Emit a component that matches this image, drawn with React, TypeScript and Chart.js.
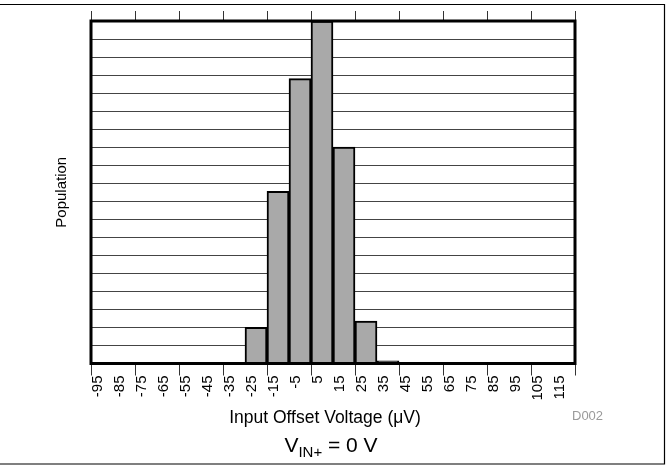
import { useEffect, useRef } from 'react';
import { Chart, registerables } from 'chart.js';

Chart.register(...registerables);

const binLabels = ['-95', '-85', '-75', '-65', '-55', '-45', '-35', '-25', '-15', '-5', '5', '15', '25', '35', '45', '55', '65', '75', '85', '95', '105', '115'];
const population = [0, 0, 0, 0, 0, 0, 0, 2, 9.55, 15.8, 19, 12, 2.35, 0.15, 0, 0, 0, 0, 0, 0, 0, 0];
const yMax = 19;
const xTitle = 'Input Offset Voltage (\u03bcV)';
const yTitle = 'Population';
const figureId = 'D002';
const condMain = 'V';
const condSub = 'IN+';
const condRest = ' = 0 V';

const FONT = "'Liberation Sans', Arial, Helvetica, sans-serif";

const W = 669;
const H = 466;
const AREA = { left: 91, right: 575, top: 21, bottom: 363.5 };

const everyOtherEdge = (c: any) =>
  c.type !== 'tick' || c.index % 2 === 0 ? '#333333' : 'rgba(0,0,0,0)';

const decorPlugin = {
  id: 'decor',
  afterDraw(chart: any) {
    const { ctx, chartArea } = chart;
    ctx.save();
    // plot frame
    ctx.strokeStyle = '#000';
    ctx.lineWidth = 3;
    ctx.strokeRect(chartArea.left, chartArea.top, chartArea.right - chartArea.left, chartArea.bottom - chartArea.top);
    // outer figure border
    ctx.lineWidth = 1.2;
    ctx.beginPath();
    ctx.moveTo(0, 4.5);
    ctx.lineTo(664.5, 4.5);
    ctx.lineTo(664.5, 464);
    ctx.lineTo(0, 464);
    ctx.stroke();
    // x axis title
    ctx.fillStyle = '#000';
    ctx.font = `17.5px ${FONT}`;
    ctx.textAlign = 'center';
    ctx.textBaseline = 'middle';
    ctx.fillText(xTitle, 325, 418);
    // figure id
    ctx.fillStyle = '#9a9a9a';
    ctx.font = `13px ${FONT}`;
    ctx.textAlign = 'left';
    ctx.textBaseline = 'alphabetic';
    ctx.fillText(figureId, 572, 420);
    // condition line
    ctx.fillStyle = '#000';
    const big = `21px ${FONT}`;
    const small = `15px ${FONT}`;
    ctx.font = big;
    const w1 = ctx.measureText(condMain).width;
    const w3 = ctx.measureText(condRest).width;
    ctx.font = small;
    const w2 = ctx.measureText(condSub).width;
    const total = w1 + w2 + w3;
    let x = 331 - total / 2;
    const base = 452;
    ctx.font = big;
    ctx.fillText(condMain, x, base);
    x += w1;
    ctx.font = small;
    ctx.fillText(condSub, x, base + 5);
    x += w2;
    ctx.font = big;
    ctx.fillText(condRest, x, base);
    ctx.restore();
  },
};

export default function App() {
  const ref = useRef<HTMLCanvasElement | null>(null);

  useEffect(() => {
    if (!ref.current) return;
    Chart.defaults.font.family = FONT;
    Chart.defaults.color = '#000';
    const chart = new Chart(ref.current, {
      type: 'bar',
      data: {
        labels: binLabels,
        datasets: [
          {
            data: population,
            backgroundColor: '#a9a9a9',
            borderColor: '#000',
            borderWidth: 2,
            barPercentage: 1,
            categoryPercentage: 1,
            xAxisID: 'x',
            yAxisID: 'y',
          },
        ],
      },
      options: {
        responsive: false,
        animation: false,
        devicePixelRatio: 1,
        layout: { padding: { left: 0, right: W - AREA.right, top: 0, bottom: 0 } },
        plugins: {
          legend: { display: false },
          tooltip: { enabled: false },
        },
        scales: {
          x: {
            type: 'category',
            position: 'bottom',
            offset: true,
            afterFit: (s: any) => {
              s.height = H - AREA.bottom;
            },
            border: { display: false },
            grid: {
              offset: true,
              drawOnChartArea: false,
              drawTicks: true,
              tickLength: 12,
              color: everyOtherEdge,
              lineWidth: 1,
            },
            ticks: {
              autoSkip: false,
              maxRotation: 90,
              minRotation: 90,
              padding: 0,
              labelOffset: -4,
              font: { size: 15 },
              color: '#000',
            },
            title: { display: false },
          },
          x2: {
            type: 'category',
            position: 'top',
            offset: true,
            afterFit: (s: any) => {
              s.height = AREA.top;
            },
            border: { display: false },
            grid: {
              offset: true,
              drawOnChartArea: false,
              drawTicks: true,
              tickLength: 10,
              color: everyOtherEdge,
              lineWidth: 1,
            },
            ticks: { display: false },
          },
          y: {
            type: 'linear',
            min: 0,
            max: yMax,
            afterFit: (s: any) => {
              s.width = AREA.left;
            },
            border: { display: false },
            grid: {
              drawTicks: false,
              color: '#444444',
              lineWidth: 1,
            },
            ticks: { display: false, stepSize: 1 },
            title: {
              display: true,
              text: yTitle,
              font: { size: 15 },
              color: '#000',
              padding: { top: 53, bottom: 0 },
            },
          },
        },
      },
      plugins: [decorPlugin],
    });
    return () => chart.destroy();
  }, []);

  return (
    <div style={{ position: 'fixed', left: 0, top: 0, width: W, height: H, background: '#fff' }}>
      <canvas ref={ref} width={W} height={H} style={{ width: W, height: H, display: 'block' }} />
    </div>
  );
}
